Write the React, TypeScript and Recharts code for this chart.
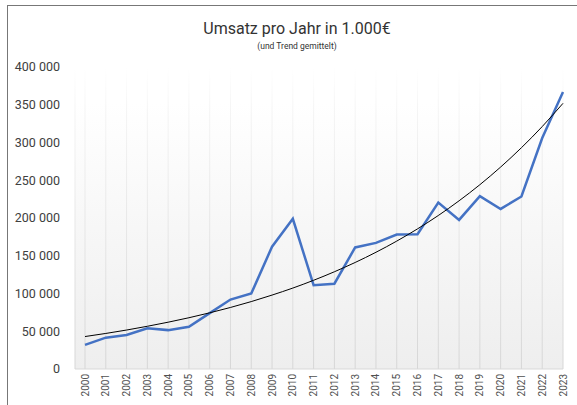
import React from 'react';
import { LineChart, Line, XAxis, YAxis, CartesianGrid } from 'recharts';

const years = [
  '2000', '2001', '2002', '2003', '2004', '2005', '2006', '2007', '2008', '2009', '2010', '2011',
  '2012', '2013', '2014', '2015', '2016', '2017', '2018', '2019', '2020', '2021', '2022', '2023',
];

// Umsatz in 1.000€
const umsatz = [
  32000, 41500, 45000, 54000, 51500, 56000, 74000, 92000, 100000, 162000, 199000, 111000,
  113000, 161000, 167000, 178000, 178500, 220500, 197500, 229000, 212000, 228500, 306000, 367000,
];

// exponentieller Trend
const trend = [
  43000, 47100, 51600, 56600, 62000, 67900, 74400, 81500, 89300, 97900, 107200, 117500,
  128800, 141100, 154600, 169400, 185600, 203300, 222800, 244100, 267500, 293100, 321100, 351900,
];

const yTicks = [0, 50000, 100000, 150000, 200000, 250000, 300000, 350000, 400000];

const data = years.map((y, i) => ({ year: y, umsatz: umsatz[i], trend: trend[i] }));

const formatNumber = (v: number) => String(v).replace(/\B(?=(\d{3})+(?!\d))/g, ' ');

const YearTick = ({ x, y, payload }: any) => (
  <text
    transform={`translate(${x},${y}) rotate(-90)`}
    textAnchor="end"
    dy="0.35em"
    fontSize={10}
    fontFamily="Roboto, sans-serif"
    fill="#505050"
  >
    {payload.value}
  </text>
);

const App: React.FC = () => {
  return (
    <div style={{ position: 'absolute', left: 0, top: 0, width: 577, height: 405, overflow: 'hidden', background: '#fff' }}>
      {/* Rahmen */}
      <div
        style={{
          position: 'absolute',
          left: 7,
          top: 5,
          width: 600,
          height: 420,
          borderLeft: '1px solid #777',
          borderTop: '1px solid #777',
        }}
      />
      <div
        style={{
          position: 'absolute',
          left: 0,
          top: 19,
          width: 594,
          textAlign: 'center',
          fontFamily: 'Roboto, sans-serif',
          fontSize: 16,
          color: '#333',
        }}
      >
        Umsatz pro Jahr in 1.000€
      </div>
      <div
        style={{
          position: 'absolute',
          left: 0,
          top: 41,
          width: 594,
          textAlign: 'center',
          fontFamily: 'Roboto, sans-serif',
          fontSize: 8.5,
          color: '#333',
        }}
      >
        (und Trend gemittelt)
      </div>
      <div style={{ position: 'absolute', left: 0, top: 0 }}>
        <LineChart width={577} height={405} data={data} margin={{ top: 67, right: 14, bottom: 0, left: 15 }}>
          <defs>
            <linearGradient id="bgGrad" x1="0" y1="0" x2="0" y2="1">
              <stop offset="0%" stopColor="#ffffff" />
              <stop offset="12%" stopColor="#ffffff" />
              <stop offset="100%" stopColor="#eeeeee" />
            </linearGradient>
            <linearGradient id="gridGrad" gradientUnits="userSpaceOnUse" x1="0" y1="67" x2="0" y2="369">
              <stop offset="0%" stopColor="#ffffff" />
              <stop offset="15%" stopColor="#f4f4f4" />
              <stop offset="100%" stopColor="#d6d6d6" />
            </linearGradient>
          </defs>
          <CartesianGrid horizontal={false} vertical={true} stroke="url(#gridGrad)" fill="url(#bgGrad)" fillOpacity={1} />
          <XAxis
            dataKey="year"
            interval={0}
            padding={{ left: 10, right: 0 }}
            height={36}
            tickLine={false}
            tickSize={0}
            tickMargin={5}
            axisLine={{ stroke: '#d9d9d9' }}
            tick={<YearTick />}
          />
          <YAxis
            domain={[0, 400000]}
            ticks={yTicks}
            width={60}
            axisLine={false}
            tickLine={false}
            tickSize={0}
            tickMargin={15}
            tickFormatter={formatNumber}
            tick={{ fontSize: 12.5, fontFamily: 'Roboto, sans-serif', fill: '#404040' }}
          />
          <Line
            type="linear"
            dataKey="umsatz"
            stroke="#4472C4"
            strokeWidth={2.5}
            dot={false}
            isAnimationActive={false}
          />
          <Line
            type="monotone"
            dataKey="trend"
            stroke="#000000"
            strokeWidth={1}
            dot={false}
            isAnimationActive={false}
          />
        </LineChart>
      </div>
    </div>
  );
};

export default App;
